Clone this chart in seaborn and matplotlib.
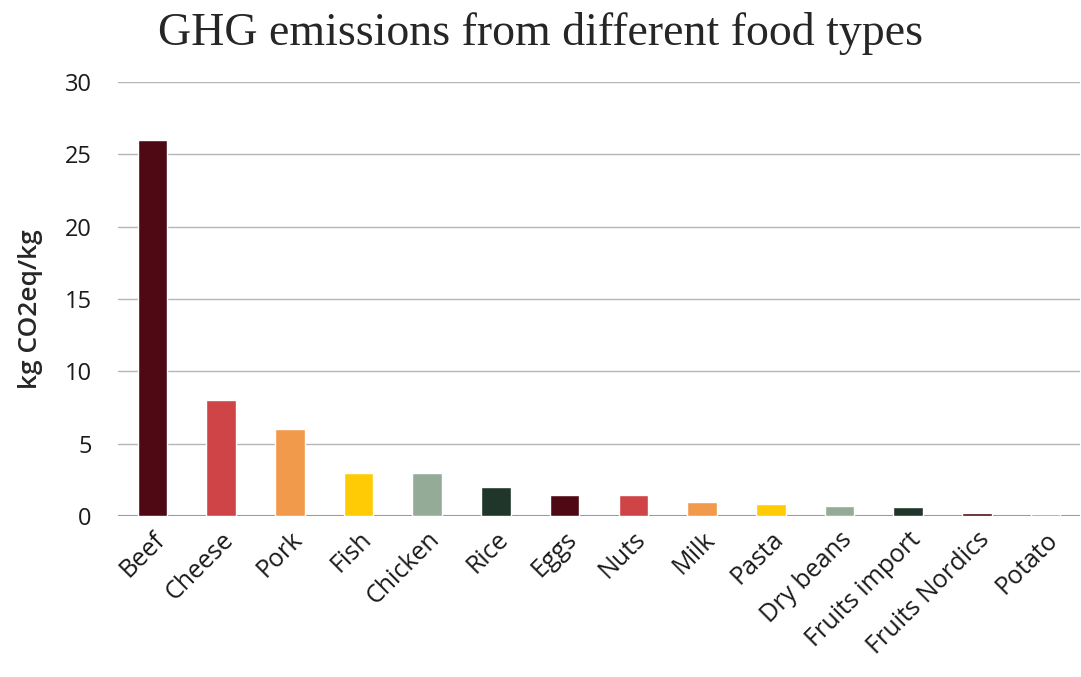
import matplotlib
matplotlib.use("Agg")
import matplotlib.pyplot as plt
import seaborn as sns
import pandas as pd

foods = ["Beef", "Cheese", "Pork", "Fish", "Chicken", "Rice", "Eggs", "Nuts",
         "Milk", "Pasta", "Dry beans", "Fruits import", "Fruits Nordics", "Potato"]
emissions = [26, 8, 6, 3, 3, 2, 1.45, 1.45, 0.95, 0.8, 0.7, 0.6, 0.22, 0.14]
colors = ["#4f0915", "#cf4446", "#f29a4b", "#ffcb05", "#94ab98", "#20362a",
          "#4f0915", "#cf4446", "#f29a4b", "#ffcb05", "#94ab98", "#20362a",
          "#4f0915", "#d9646a"]

df = pd.DataFrame({"food": foods, "co2": emissions})

sns.set_style("white")
plt.rcParams["font.family"] = ["Open Sans", "DejaVu Sans"]

fig = plt.figure(figsize=(10.81, 6.77), dpi=100)
ax = fig.add_axes([118 / 1081, 1 - 516 / 677, 962 / 1081, 434 / 677])

sns.barplot(data=df, x="food", y="co2", hue="food", palette=colors,
            saturation=1, legend=False, width=0.43, ax=ax, zorder=3)

ax.set_ylim(0, 30)
ax.set_yticks([0, 5, 10, 15, 20, 25, 30])
ax.yaxis.grid(True, color="#b5b5b5", lw=1)
ax.axhline(0, color="#9a9a9a", lw=1.5, zorder=2)
for s in ax.spines.values():
    s.set_visible(False)
ax.tick_params(axis="y", labelsize=17, length=0, pad=19, labelcolor="#1a1a1a")
ax.tick_params(axis="x", labelsize=18, length=0, pad=8, labelcolor="#1a1a1a")
plt.setp(ax.get_xticklabels(), rotation=45, ha="right", rotation_mode="anchor")

ax.set_xlabel("")
ax.set_ylabel("kg CO2eq/kg", fontsize=19, fontweight="semibold")
ax.yaxis.set_label_coords(-0.078, 0.477)
ax.set_xlim(-0.5, len(foods) - 0.5)

fig.text(0.5, 1 - 45 / 677, "GHG emissions from different food types", ha="center",
         va="baseline", fontsize=33, family="Liberation Serif")

fig.savefig("out.png", dpi=100)
